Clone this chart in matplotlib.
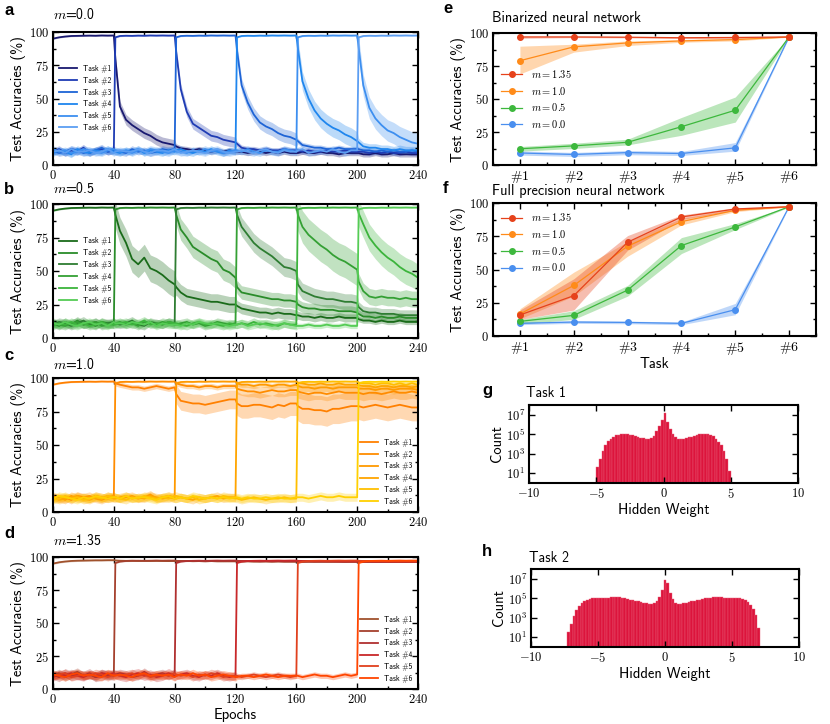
import numpy as np
import matplotlib
matplotlib.use('Agg')
import matplotlib.pyplot as plt
from matplotlib.ticker import FuncFormatter, MultipleLocator, FixedLocator, NullLocator

plt.rcParams['mathtext.fontset'] = 'cm'
plt.rcParams['font.family'] = 'cmss10'
plt.rcParams['axes.unicode_minus'] = False

# ---------------- data ----------------
# sampled every 4 epochs, plus the first epoch of every new task
epochs = np.union1d(np.arange(0, 241, 4), [41, 81, 121, 161, 201])
task_names = ['Task #1', 'Task #2', 'Task #3', 'Task #4', 'Task #5', 'Task #6']

# rows: epochs 0-36 | 40, 41, 44-76 | 80, 81, 84-116 | ... | 200, 201, 204-240
# m = 0.0
a_task1 = [95, 96, 96.6, 97, 97.1, 97.2, 97.3, 97.2, 97.4, 97.3,
           97.4, 80, 44, 34, 30, 27, 24, 22, 19, 17, 16,
           15, 14, 12.5, 12, 11, 12, 11, 10, 11, 10, 11,
           10, 10, 10, 9, 10, 10, 9, 10, 9, 10, 9,
           9, 9, 10, 9, 9, 10, 9, 9, 8, 9, 9,
           9, 9, 8, 8, 9, 8, 8, 9, 8, 8, 8, 8]
a_task2 = [10, 12, 9, 11, 10, 13, 9, 11, 12, 10,
           11, 96, 97, 97.2, 97.1, 97.3, 97.2, 97.4, 97.3, 97.4, 97.3,
           97.4, 85, 57, 40, 31, 28, 25, 22, 21, 19, 18,
           17, 16, 13, 12, 12, 11, 12, 11, 11, 12, 11,
           11, 11, 10, 11, 10, 10, 11, 10, 10, 11, 10,
           10, 10, 10, 9, 10, 9, 10, 9, 9, 10, 9, 9]
a_task3 = [11, 9, 10, 12, 11, 9, 10, 11, 13, 10,
           11, 10, 10, 9, 12, 10, 11, 9, 10, 12, 11,
           12, 96, 97, 97.2, 97.1, 97.3, 97.2, 97.4, 97.3, 97.4, 97.3,
           97.4, 86, 60, 47, 38, 32, 29, 27, 24, 22, 21,
           19, 18, 15, 14, 13, 13, 12, 12, 13, 12, 12,
           12, 12, 11, 11, 10, 11, 10, 11, 10, 10, 11, 10]
a_task4 = [9, 11, 10, 8, 12, 10, 9, 11, 10, 12,
           10, 10, 9, 11, 10, 12, 9, 11, 10, 9, 11,
           10, 11, 12, 10, 9, 11, 10, 12, 10, 9, 11,
           10, 96, 97, 97.2, 97.1, 97.3, 97.2, 97.4, 97.3, 97.4, 97.3,
           97.4, 88, 63, 50, 41, 35, 31, 28, 26, 23, 21,
           18, 17, 14, 13, 13, 12, 12, 11, 12, 11, 11, 11]
a_task5 = [12, 10, 11, 9, 10, 12, 11, 10, 9, 11,
           12, 11, 10, 11, 9, 11, 10, 12, 11, 10, 9,
           11, 10, 10, 9, 11, 10, 12, 10, 11, 9, 10,
           11, 11, 10, 12, 10, 9, 11, 10, 10, 12, 11,
           10, 96, 97, 97.2, 97.1, 97.3, 97.2, 97.4, 97.3, 97.4, 97.3,
           97.4, 88, 60, 43, 35, 30, 26, 24, 21, 19, 17, 16]
a_task6 = [10, 11, 9, 12, 10, 10, 11, 9, 10, 12,
           9, 10, 11, 10, 10, 12, 10, 9, 11, 11, 10,
           12, 11, 9, 10, 11, 10, 9, 11, 12, 10, 9,
           10, 10, 11, 10, 9, 11, 12, 10, 9, 11, 10,
           10, 11, 12, 9, 10, 11, 10, 12, 10, 9, 11,
           11, 96, 97, 97.2, 97.1, 97.3, 97.2, 97.4, 97.3, 97.4, 97.3, 97.4]
# spread per 40-epoch block
a_spread = [[0.5, 4, 2, 2, 2, 2],
            [2.5, 0.5, 4, 2, 2, 2],
            [2.5, 2.5, 0.5, 5, 2, 2],
            [2.5, 2.5, 2.5, 0.5, 7, 3],
            [2.5, 2.5, 2.5, 2.5, 0.5, 8],
            [2.5, 2.5, 2.5, 2.5, 2.5, 0.5]]

# m = 0.5
b_task1 = [95, 96, 96.6, 97, 97.1, 97.2, 97.3, 97.2, 97.4, 97.3,
           97.4, 92, 80, 71, 59, 55, 60, 52, 50, 47, 43,
           40, 38, 34, 31, 30, 29, 28, 27, 27, 26, 25,
           25, 24, 22, 21, 20, 19, 19, 18, 19, 18, 18,
           17, 17, 16, 16, 15, 16, 15, 15, 16, 15, 15,
           15, 14, 13, 13, 12, 13, 12, 12, 13, 12, 12, 12]
b_task2 = [11, 9, 12, 10, 13, 10, 11, 9, 12, 11,
           10, 96, 97, 97.2, 97.1, 97.3, 97.2, 97.4, 97.3, 97.4, 97.3,
           97.4, 92, 81, 75, 68, 65, 62, 59, 57, 51, 49,
           45, 38, 34, 33, 32, 31, 30, 29, 29, 28, 28,
           27, 25, 23, 22, 22, 21, 21, 21, 20, 20, 20,
           19, 18, 16, 16, 15, 16, 15, 15, 16, 15, 15, 15]
b_task3 = [10, 12, 11, 9, 11, 13, 10, 12, 10, 11,
           12, 11, 10, 11, 13, 10, 9, 12, 11, 10, 12,
           11, 96, 97, 97.2, 97.1, 97.3, 97.2, 97.4, 97.3, 97.4, 97.3,
           97.4, 92, 83, 77, 71, 67, 64, 61, 57, 53, 52,
           50, 40, 35, 33, 31, 30, 29, 29, 28, 27, 27,
           26, 23, 20, 19, 19, 18, 18, 18, 17, 17, 17, 17]
b_task4 = [12, 10, 9, 11, 12, 10, 11, 12, 9, 10,
           11, 11, 12, 10, 11, 9, 12, 11, 10, 12, 11,
           10, 10, 11, 12, 10, 11, 9, 10, 12, 11, 10,
           11, 96, 97, 97.2, 97.1, 97.3, 97.2, 97.4, 97.3, 97.4, 97.3,
           97.4, 92, 83, 77, 73, 69, 66, 62, 59, 57, 54,
           51, 42, 35, 31, 30, 31, 30, 30, 29, 30, 29, 29]
b_task5 = [9, 11, 10, 12, 10, 11, 9, 10, 12, 10,
           10, 10, 11, 12, 10, 11, 13, 10, 11, 10, 12,
           11, 11, 10, 9, 11, 12, 10, 11, 10, 9, 11,
           10, 10, 11, 10, 12, 10, 11, 10, 9, 11, 10,
           10, 96, 97, 97.2, 97.1, 97.3, 97.2, 97.4, 97.3, 97.4, 97.3,
           97.4, 93, 85, 75, 69, 64, 60, 57, 53, 50, 48, 45]
b_task6 = [11, 10, 12, 10, 9, 11, 12, 10, 11, 9,
           12, 11, 11, 10, 12, 11, 10, 12, 9, 11, 10,
           10, 10, 9, 11, 10, 12, 11, 10, 11, 10, 9,
           10, 10, 11, 9, 10, 11, 10, 9, 10, 11, 10,
           9, 9, 9, 10, 9, 9, 10, 9, 9, 10, 9,
           9, 96, 97, 97.2, 97.1, 97.3, 97.2, 97.4, 97.3, 97.4, 97.3, 97.4]
b_spread = [[0.5, 10, 6, 4, 3, 2],
            [3, 0.5, 8, 5, 4, 3],
            [3, 3, 0.5, 7, 6, 4],
            [3, 3, 3, 0.5, 12, 6],
            [3, 3, 3, 3, 0.5, 10],
            [3, 3, 3, 3, 2, 0.5]]

# m = 1.0
c_task1 = [95, 96, 96.6, 97, 97.1, 97.2, 97.3, 97.2, 97.4, 97.3,
           97.4, 96, 95, 94, 93, 93, 92, 93, 94, 93, 92,
           93, 88, 83, 82, 81, 81, 80, 81, 82, 83, 84,
           84, 81, 79, 79, 80, 80, 79, 78, 80, 79, 81,
           81, 79, 77, 77, 76, 76, 75, 77, 77, 78, 79,
           79, 79, 78, 79, 80, 79, 78, 79, 80, 79, 78, 78]
c_task2 = [12, 10, 11, 9, 12, 11, 10, 12, 11, 10,
           11, 96, 97, 97.2, 97.1, 97.3, 97.2, 97.4, 97.3, 97.4, 97.3,
           97.4, 96, 95, 94, 94, 93, 94, 94, 93, 94, 94,
           94, 92, 91, 90, 90, 89, 90, 91, 90, 90, 91,
           91, 90, 89, 88, 89, 89, 88, 89, 90, 89, 89,
           89, 89, 88, 89, 89, 88, 89, 90, 89, 89, 90, 89]
c_task3 = [10, 11, 9, 12, 10, 11, 12, 10, 9, 11,
           12, 11, 10, 11, 12, 10, 11, 13, 10, 11, 12,
           11, 96, 97, 97.2, 97.1, 97.3, 97.2, 97.4, 97.3, 97.4, 97.3,
           97.4, 96, 95, 95, 94, 95, 95, 94, 95, 95, 94,
           95, 94, 93, 93, 92, 93, 93, 92, 93, 93, 93,
           93, 92, 92, 92, 91, 92, 92, 91, 92, 92, 92, 91]
c_task4 = [11, 9, 10, 11, 12, 10, 9, 11, 10, 12,
           10, 10, 11, 12, 10, 11, 10, 12, 11, 10, 11,
           10, 10, 11, 10, 9, 11, 10, 11, 12, 10, 11,
           11, 96, 97, 97.2, 97.1, 97.3, 97.2, 97.4, 97.3, 97.4, 97.3,
           97.4, 96.5, 96, 95, 95, 96, 95, 95, 96, 95, 95,
           95, 94.5, 94, 94, 93, 94, 94, 93, 94, 94, 93, 94]
c_task5 = [9, 10, 12, 10, 11, 9, 10, 11, 10, 12,
           11, 11, 10, 9, 11, 10, 12, 11, 10, 11, 10,
           12, 12, 11, 10, 11, 9, 10, 11, 10, 12, 11,
           10, 10, 9, 10, 11, 10, 9, 10, 10, 11, 10,
           10, 96, 97, 97.2, 97.1, 97.3, 97.2, 97.4, 97.3, 97.4, 97.3,
           97.4, 96.5, 96, 96, 95, 96, 96, 95, 96, 95, 96, 95]
c_task6 = [10, 12, 11, 10, 9, 11, 10, 12, 11, 10,
           11, 11, 10, 12, 10, 11, 11, 10, 9, 11, 12,
           10, 10, 11, 10, 12, 11, 10, 11, 10, 11, 10,
           11, 11, 10, 11, 10, 10, 11, 10, 11, 10, 10,
           11, 11, 11, 10, 11, 12, 11, 11, 12, 11, 11,
           11, 96, 97, 97.2, 97.1, 97.3, 97.2, 97.4, 97.3, 97.4, 97.3, 97.4]
c_spread = [[0.5, 2, 7, 9, 11, 10],
            [3, 0.5, 2, 4, 5, 5],
            [3, 3, 0.5, 2, 3, 3],
            [3, 3, 3, 0.5, 2, 2],
            [3, 3, 3, 3, 0.5, 1.5],
            [3, 3, 3, 3, 3, 0.5]]

# m = 1.35
d_task1 = [95, 96, 96.6, 97, 97.2, 97.3, 97.4, 97.5, 97.5, 97.6,
           97.6, 97.4, 97.2, 97.1, 97.2, 97.0, 97.1, 97.0, 97.1, 97.0, 96.9,
           97.0, 97.0, 96.9, 97.0, 96.8, 96.9, 96.8, 96.9, 96.8, 96.7, 96.8,
           96.8, 96.8, 96.7, 96.8, 96.6, 96.7, 96.7, 96.6, 96.7, 96.6, 96.6,
           96.6, 96.6, 96.5, 96.6, 96.5, 96.6, 96.5, 96.5, 96.6, 96.5, 96.5,
           96.5, 96.5, 96.4, 96.5, 96.4, 96.5, 96.4, 96.5, 96.4, 96.4, 96.5, 96.4]
d_task2 = [10, 12, 9, 11, 13, 10, 11, 9, 12, 10,
           11, 95.5, 96.5, 97, 97.1, 97.2, 97.1, 97.2, 97.3, 97.2, 97.3,
           97.3, 97.1, 97, 96.9, 97, 96.9, 96.8, 96.9, 96.8, 96.9, 96.8,
           96.8, 96.8, 96.7, 96.8, 96.7, 96.6, 96.7, 96.6, 96.7, 96.6, 96.6,
           96.6, 96.6, 96.5, 96.6, 96.5, 96.5, 96.6, 96.5, 96.5, 96.4, 96.5,
           96.5, 96.5, 96.4, 96.5, 96.4, 96.4, 96.5, 96.4, 96.3, 96.4, 96.4, 96.4]
d_task3 = [11, 9, 12, 10, 11, 10, 12, 9, 10, 11,
           10, 11, 12, 11, 9, 10, 13, 10, 11, 12, 10,
           12, 95.5, 96.5, 97, 97.1, 97.2, 97.1, 97.2, 97.3, 97.2, 97.3,
           97.3, 97.1, 97, 96.9, 97, 96.8, 96.9, 96.8, 96.9, 96.8, 96.8,
           96.8, 96.8, 96.7, 96.6, 96.7, 96.6, 96.6, 96.7, 96.6, 96.5, 96.6,
           96.6, 96.6, 96.5, 96.5, 96.4, 96.5, 96.5, 96.4, 96.5, 96.4, 96.4, 96.4]
d_task4 = [9, 11, 10, 12, 10, 9, 11, 10, 12, 11,
           12, 11, 10, 9, 11, 12, 10, 11, 9, 10, 12,
           10, 10, 11, 12, 10, 9, 11, 10, 12, 10, 9,
           10, 95.5, 96.5, 97, 97.1, 97.2, 97.1, 97.2, 97.3, 97.2, 97.3,
           97.3, 97.1, 97, 96.9, 96.8, 96.9, 96.8, 96.8, 96.7, 96.8, 96.7,
           96.7, 96.7, 96.6, 96.7, 96.6, 96.6, 96.5, 96.6, 96.5, 96.6, 96.5, 96.5]
d_task5 = [10, 11, 12, 9, 10, 11, 10, 12, 11, 9,
           11, 11, 10, 11, 12, 10, 11, 9, 10, 11, 10,
           12, 11, 10, 11, 9, 11, 10, 12, 11, 9, 10,
           10, 10, 9, 10, 11, 10, 9, 10, 11, 10, 9,
           10, 95.5, 96.5, 97, 97.1, 97.2, 97.1, 97.2, 97.3, 97.2, 97.3,
           97.3, 97.1, 97, 96.9, 96.8, 96.9, 96.8, 96.8, 96.7, 96.8, 96.7, 96.7]
d_task6 = [11, 10, 9, 11, 12, 10, 11, 10, 9, 12,
           10, 10, 11, 10, 9, 11, 12, 10, 11, 10, 11,
           9, 10, 11, 10, 12, 10, 11, 9, 10, 11, 10,
           9, 9, 10, 10, 9, 10, 11, 10, 9, 10, 10,
           10, 10, 9, 10, 11, 10, 10, 9, 10, 11, 10,
           11, 95.5, 96.5, 97, 97.1, 97.2, 97.1, 97.2, 97.3, 97.2, 97.3, 97.3]
d_spread = [[0.6, 0.3, 0.3, 0.3, 0.3, 0.3],
            [3, 0.5, 0.3, 0.3, 0.3, 0.3],
            [3.5, 3, 0.5, 0.3, 0.3, 0.3],
            [3, 3.5, 3, 0.5, 0.3, 0.3],
            [3, 3, 3, 2, 0.5, 0.3],
            [3, 3, 3, 2, 2, 0.5]]

# summary panels e / f
task_ticks = ['#1', '#2', '#3', '#4', '#5', '#6']
m_labels = ['$m = 1.35$', '$m = 1.0$', '$m = 0.5$', '$m = 0.0$']

e_mean = [[97, 97, 96.8, 96.4, 96.6, 97],
          [79, 89.5, 92.5, 94, 95, 97],
          [12.3, 14.5, 17.2, 29, 41.5, 97],
          [9.1, 8, 9.4, 8.7, 13, 97]]
e_low = [[96, 96.5, 96.3, 95.8, 95.8, 96.8],
         [69, 85.5, 90.5, 93, 94, 96.8],
         [10.5, 12.5, 15.2, 22.5, 32.5, 96.8],
         [7.5, 6.5, 7.8, 7.2, 10.5, 96.8]]
e_high = [[97.6, 97.6, 97.4, 97, 97.3, 97.2],
          [90, 91.5, 94, 95, 96, 97.2],
          [14, 16.5, 19.5, 36, 51.5, 97.2],
          [10.7, 9.5, 11, 10.3, 17, 97.2]]

f_mean = [[15.8, 30.3, 70.5, 89.5, 95.5, 97.2],
          [16.5, 38, 67.5, 86, 94.5, 97.2],
          [11, 15.5, 34.5, 68, 82, 97.2],
          [9.5, 10.5, 10.2, 9.5, 19.8, 97.2]]
f_low = [[12.5, 19.5, 64.5, 87.5, 94.5, 97],
         [13, 30, 60, 83.5, 93.5, 97],
         [9, 12.5, 30, 62, 80, 97],
         [8.5, 9.5, 9.2, 8.5, 16, 97]]
f_high = [[19.5, 43, 75.5, 91, 96.5, 97.4],
          [20.5, 48, 71, 88.5, 95.5, 97.4],
          [12.5, 19, 38, 74, 84.5, 97.4],
          [10.5, 11.5, 11.2, 10.5, 24.5, 97.4]]

# hidden weight histograms (log10 of counts)
g_log = [1.6, 2.5, 3.3, 3.9, 4.3, 4.55, 4.75, 4.88, 4.95, 5.0,
         5.02, 5.0, 4.95, 4.88, 4.8, 4.72, 4.64, 4.57, 4.52, 4.5,
         4.6, 4.8, 5.3, 5.8, 6.5, 7.2, 6.3, 5.5, 5.0, 4.7,
         4.5, 4.48, 4.52, 4.6, 4.68, 4.76, 4.85, 4.92, 4.98, 5.02,
         5.03, 5.0, 4.92, 4.78, 4.55, 4.25, 3.85, 3.3, 2.5, 1.2]
h_log = [1.5, 2.4, 3.2, 3.8, 4.2, 4.5, 4.7, 4.85, 4.95, 5.02,
         5.05, 5.07, 5.07, 5.06, 5.05, 5.06, 5.08, 5.1, 5.1, 5.08,
         5.03, 4.98, 4.92, 4.86, 4.8, 4.74, 4.68, 4.62, 4.56, 4.5,
         4.46, 4.45, 4.5, 4.7, 5.1, 5.8, 6.9, 6.6, 5.5, 4.9,
         4.55, 4.45, 4.45, 4.5, 4.56, 4.62, 4.68, 4.74, 4.8, 4.86,
         4.92, 4.98, 5.03, 5.07, 5.1, 5.12, 5.11, 5.09, 5.06, 5.04,
         5.04, 5.05, 5.05, 5.04, 5.0, 4.92, 4.8, 4.6, 4.3, 3.85,
         3.3, 2.0]
g_centers = np.linspace(-4.9, 4.9, len(g_log))
h_centers = np.linspace(-7.2, 7.0, len(h_log))

blues = ['#191970', '#1f3cb4', '#1e64d6', '#1f86ee', '#3d8ff0', '#5c9ef2']
greens = ['#1a6b1a', '#2a8c2a', '#2e7d32', '#34a034', '#3cb43c', '#55cc55']
oranges = ['#ff8000', '#ff8c00', '#ff9a00', '#ffa500', '#ffbf00', '#ffd000']
reds = ['#a0522d', '#a5402d', '#b03030', '#c8282a', '#e0401e', '#ff4500']
summary_colors = ['#e6421b', '#ff8b19', '#3db83d', '#4a8fef']
hist_color = '#dc143c'

# ---------------- figure ----------------
W, H = 830, 724
fig = plt.figure(figsize=(W / 100, H / 100), dpi=100)


def add_ax(left, top, right, bottom):
    return fig.add_axes([left / W, 1 - bottom / H, (right - left) / W, (bottom - top) / H])


def style(ax):
    for s in ax.spines.values():
        s.set_linewidth(1.5)
    ax.tick_params(which='both', direction='in', top=True, right=True, width=1.0, labelsize=9)
    ax.tick_params(which='major', length=4, pad=3)
    ax.tick_params(which='minor', length=2)


num_fmt = FuncFormatter(lambda v, p: r'$%g$' % v)


def label_px(x, y, s, **kw):
    fig.text(x / W, 1 - y / H, s, va='baseline', ha='left', **kw)


block = np.clip((epochs - 1) // 40, 0, 5)


def run_panel(ax, curves, spread, colors, leg_loc, leg_anchor):
    for y, sp, c, name in zip(curves, spread, colors, task_names):
        y = np.array(y)
        w = np.array(sp)[block]
        ax.fill_between(epochs, y - w, y + w, color=c, alpha=0.3, lw=0)
        ax.plot(epochs, y, color=c, lw=1.3, label=name)
    ax.set_xlim(0, 240)
    ax.set_ylim(0, 100)
    ax.xaxis.set_major_locator(MultipleLocator(40))
    ax.xaxis.set_minor_locator(MultipleLocator(20))
    ax.yaxis.set_major_locator(MultipleLocator(25))
    ax.yaxis.set_minor_locator(MultipleLocator(12.5))
    ax.xaxis.set_major_formatter(num_fmt)
    ax.yaxis.set_major_formatter(num_fmt)
    ax.set_ylabel('Test Accuracies (%)', fontsize=10.5, labelpad=2)
    style(ax)
    ax.legend(loc=leg_loc, bbox_to_anchor=leg_anchor, frameon=False,
              prop={'family': 'cmss10', 'size': 5.5}, handlelength=2.4,
              handletextpad=0.7, labelspacing=0.5, borderaxespad=0.4)


ax_a = add_ax(53, 32, 418, 165)
run_panel(ax_a, [a_task1, a_task2, a_task3, a_task4, a_task5, a_task6], a_spread, blues,
          'center left', (0.0, 0.5))
ax_b = add_ax(53, 204, 418, 338)
run_panel(ax_b, [b_task1, b_task2, b_task3, b_task4, b_task5, b_task6], b_spread, greens,
          'center left', (0.0, 0.5))
ax_c = add_ax(53, 378, 418, 512)
run_panel(ax_c, [c_task1, c_task2, c_task3, c_task4, c_task5, c_task6], c_spread, oranges,
          'lower right', (1.0, 0.0))
ax_d = add_ax(53, 557, 418, 689)
run_panel(ax_d, [d_task1, d_task2, d_task3, d_task4, d_task5, d_task6], d_spread, reds,
          'lower right', (1.0, 0.0))
ax_d.set_xlabel('Epochs', fontsize=10.5, labelpad=1)

label_px(53, 19, r'$m$=0.0', fontsize=10)
label_px(53, 193, r'$m$=0.5', fontsize=10)
label_px(53, 369, r'$m$=1.0', fontsize=10)
label_px(53, 545, r'$m$=1.35', fontsize=10)


def summary_panel(ax, means, lows, highs, leg_loc, leg_anchor):
    x = np.arange(1, len(task_ticks) + 1)
    for k in reversed(range(len(means))):
        ax.fill_between(x, lows[k], highs[k], color=summary_colors[k], alpha=0.35, lw=0)
        ax.plot(x, means[k], '-o', color=summary_colors[k], lw=0.9, ms=4, label=m_labels[k])
    ax.set_xlim(0.5, 6.5)
    ax.set_ylim(0, 100)
    ax.set_xticks(x)
    ax.set_xticklabels(['$\\' + t + '$' for t in task_ticks])
    ax.xaxis.set_minor_locator(MultipleLocator(0.5))
    ax.yaxis.set_major_locator(MultipleLocator(25))
    ax.yaxis.set_minor_locator(MultipleLocator(12.5))
    ax.yaxis.set_major_formatter(num_fmt)
    ax.set_ylabel('Test Accuracies (%)', fontsize=10.5, labelpad=2)
    style(ax)
    ax.tick_params(axis='x', labelsize=10)
    h, l = ax.get_legend_handles_labels()
    ax.legend(h[::-1], l[::-1], loc=leg_loc, bbox_to_anchor=leg_anchor, frameon=False,
              fontsize=7.5, handlelength=2.0, handletextpad=0.8, labelspacing=0.45,
              borderaxespad=0.4)


ax_e = add_ax(493, 33, 816, 165)
summary_panel(ax_e, e_mean, e_low, e_high, 'center left', (0.0, 0.5))
ax_f = add_ax(493, 203, 816, 336)
summary_panel(ax_f, f_mean, f_low, f_high, 'upper left', (0.0, 1.0))
ax_f.set_xlabel('Task', fontsize=10.5, labelpad=0)
label_px(492, 22, 'Binarized neural network', fontsize=10.3)
label_px(492, 195, 'Full precision neural network', fontsize=10.3)


def hist_panel(ax, centers, logs):
    counts = 10 ** np.array(logs)
    ax.bar(centers, counts, width=0.2, color=hist_color, edgecolor='#e8617a', linewidth=0.3)
    ax.set_yscale('log')
    ax.set_ylim(1, 1e8)
    ax.set_xlim(-10, 10)
    ax.xaxis.set_major_locator(MultipleLocator(5))
    ax.xaxis.set_major_formatter(num_fmt)
    ax.yaxis.set_major_locator(FixedLocator([1e1, 1e3, 1e5, 1e7]))
    ax.yaxis.set_minor_locator(NullLocator())
    ax.yaxis.set_major_formatter(FuncFormatter(lambda v, p: r'$10^{%d}$' % round(np.log10(v))))
    ax.set_ylabel('Count', fontsize=10.5, labelpad=1)
    ax.set_xlabel('Hidden Weight', fontsize=10.5, labelpad=1)
    style(ax)


ax_g = add_ax(529, 405, 798, 483)
hist_panel(ax_g, g_centers, g_log)
ax_h = add_ax(531, 569, 799, 647)
hist_panel(ax_h, h_centers, h_log)
label_px(526, 397, 'Task 1', fontsize=10)
label_px(529, 562, 'Task 2', fontsize=10)

letter_kw = dict(fontsize=12, fontweight='bold', family=['Liberation Sans', 'DejaVu Sans'])
for x, y, s in [(4, 15, 'a'), (4, 194, 'b'), (4, 360, 'c'), (4, 538, 'd'),
                (443, 13, 'e'), (443, 193, 'f'), (482, 395, 'g'), (482, 556, 'h')]:
    label_px(x, y, s, **letter_kw)

fig.savefig('out.png', dpi=100)
